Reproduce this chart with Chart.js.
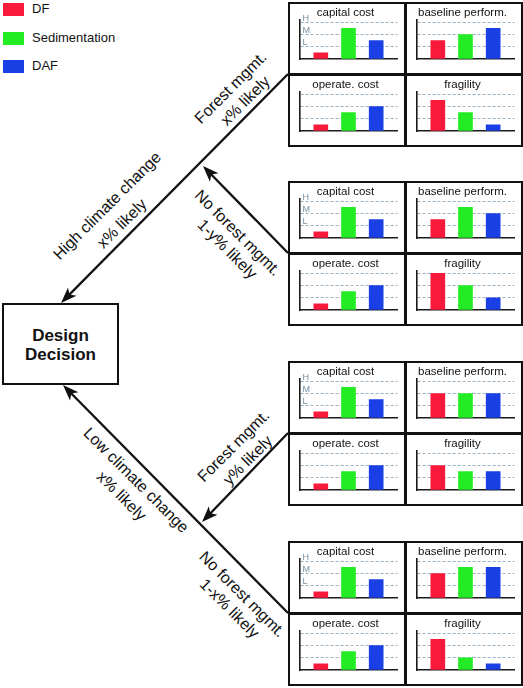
<!DOCTYPE html>
<html><head><meta charset="utf-8">
<script src="https://cdn.jsdelivr.net/npm/chart.js@4.4.0/dist/chart.umd.min.js"></script>
<style>
html,body{margin:0;padding:0;background:#fff;}
body{width:523px;height:688px;position:relative;overflow:hidden;font-family:'Liberation Sans',Arial,sans-serif;color:#111;}
svg#diagram{position:absolute;left:0;top:0;}
.group{position:absolute;left:288px;width:235px;height:145px;box-sizing:border-box;background:#111;padding:2px;display:grid;grid-template-columns:114px 114px;grid-template-rows:69px 69px;gap:3px;}
.panel{background:#fff;position:relative;width:114px;height:69px;}
.panel canvas{position:absolute;left:0;top:0;}
.leg{position:absolute;left:3px;height:14px;font-size:13px;line-height:14px;}
.leg span.sw{position:absolute;left:0;top:0;width:21px;height:13px;}
.leg span.tx{position:absolute;left:29px;top:-1px;white-space:nowrap;}
#decision{position:absolute;left:2px;top:303px;width:117px;height:82px;box-sizing:border-box;border:2.5px solid #111;display:flex;align-items:center;justify-content:center;text-align:center;font-weight:bold;font-size:17px;line-height:19px;padding-top:2px;}
</style></head>
<body>
<svg id="diagram" width="523" height="688" xmlns="http://www.w3.org/2000/svg"></svg>
<div id="legend"></div>
<div id="decision">Design<br>Decision</div>
<div id="groups"></div>
<script>
const FONT = "'Liberation Sans', Arial, sans-serif";

// ---- data ----
const categories = ['DF', 'Sedimentation', 'DAF'];
const barColors = ['#f8193b', '#24ec24', '#1a3fe4'];
const panelTitles = ['capital cost', 'baseline perform.', 'operate. cost', 'fragility'];
const levelLabels = ['', 'L', 'M', 'H'];   // tick labels for values 0..3

// values per panel (capital cost, baseline perform., operate. cost, fragility) -> [DF, Sedimentation, DAF]
const highClimateForest   = [[0.5, 2.5, 1.5], [1.5, 2, 2.5], [0.5, 1.5, 2], [2.5, 1.5, 0.5]];
const highClimateNoForest = [[0.5, 2.5, 1.5], [1.5, 2.5, 2], [0.5, 1.5, 2], [3, 2, 1]];
const lowClimateForest    = [[0.5, 2.5, 1.5], [2, 2, 2], [0.5, 1.5, 2], [2, 1.5, 1.5]];
const lowClimateNoForest  = [[0.5, 2.5, 1.5], [2, 2.5, 2.5], [0.5, 1.5, 2], [2.5, 1, 0.5]];

const scenarios = [highClimateForest, highClimateNoForest, lowClimateForest, lowClimateNoForest];
const groupTops = [2, 181, 361, 541];

// ---- legend ----
const legendTops = [3, 32, 60];
const legend = document.getElementById('legend');
categories.forEach((c, i) => {
  const d = document.createElement('div');
  d.className = 'leg';
  d.style.top = legendTops[i] + 'px';
  d.innerHTML = '<span class="sw" style="background:' + barColors[i] + '"></span><span class="tx">' + c + '</span>';
  legend.appendChild(d);
});

// ---- small bar charts ----
function makeChart(canvas, title, values, showLevels) {
  return new Chart(canvas, {
    type: 'bar',
    data: {
      labels: categories,
      datasets: [{
        label: title,
        data: values.map((v, i) => ({ x: i, y: v })),
        backgroundColor: barColors,
        borderWidth: 0,
        barThickness: 14
      }]
    },
    options: {
      responsive: false, animation: false, devicePixelRatio: 1,
      layout: { padding: { left: 3.5, right: 6.5, top: 0, bottom: 6 } },
      plugins: {
        legend: { display: false }, tooltip: { enabled: false },
        title: { display: true, text: title, color: '#111',
          font: { family: FONT, size: 11.5, weight: 'normal' }, padding: { top: 2, bottom: 0 } }
      },
      scales: {
        x: { type: 'linear', min: -0.77, max: 2.77, offset: false,
          grid: { display: false, offset: false }, ticks: { display: false },
          border: { display: true, color: '#1a1a1a', width: 1.6 } },
        y: { min: 0, max: 3.2,
          afterBuildTicks: ax => { ax.ticks = [0, 1, 2, 3].map(v => ({ value: v })); },
          grid: { color: c => (c.tick && c.tick.value > 0) ? '#9bb2c2' : 'rgba(0,0,0,0)', lineWidth: 1, drawTicks: false },
          border: { display: true, color: '#1a1a1a', width: 1.6, dash: [3, 2] },
          ticks: { mirror: true, autoSkip: false, padding: 3, labelOffset: -4, color: '#7390a2',
            font: { family: FONT, size: 9 },
            callback: v => showLevels ? (levelLabels[v] || '') : '' } }
      }
    }
  });
}

const groupsEl = document.getElementById('groups');
scenarios.forEach((sc, g) => {
  const grp = document.createElement('div');
  grp.className = 'group';
  grp.style.top = groupTops[g] + 'px';
  groupsEl.appendChild(grp);
  sc.forEach((vals, p) => {
    const pan = document.createElement('div');
    pan.className = 'panel';
    const cv = document.createElement('canvas');
    cv.width = 114; cv.height = 69;
    pan.appendChild(cv);
    grp.appendChild(pan);
    makeChart(cv, panelTitles[p], vals, p === 0);
  });
});

// ---- decision tree arrows and labels ----
const NS = 'http://www.w3.org/2000/svg';
const svg = document.getElementById('diagram');
function arrow(x1, y1, x2, y2) {
  const dx = x2 - x1, dy = y2 - y1, len = Math.hypot(dx, dy);
  const ux = dx / len, uy = dy / len, nx = -uy, ny = ux;
  const L = 16, W = 6, notch = 4;
  const line = document.createElementNS(NS, 'line');
  line.setAttribute('x1', x1); line.setAttribute('y1', y1);
  line.setAttribute('x2', x2 - ux * 8); line.setAttribute('y2', y2 - uy * 8);
  line.setAttribute('stroke', '#111'); line.setAttribute('stroke-width', '2.3');
  svg.appendChild(line);
  const pts = [
    [x2, y2],
    [x2 - ux * L + nx * W, y2 - uy * L + ny * W],
    [x2 - ux * (L - notch), y2 - uy * (L - notch)],
    [x2 - ux * L - nx * W, y2 - uy * L - ny * W]
  ];
  const poly = document.createElementNS(NS, 'polygon');
  poly.setAttribute('points', pts.map(p => p.join(',')).join(' '));
  poly.setAttribute('fill', '#111');
  svg.appendChild(poly);
}
function label(text, cx, cy, angle) {
  const t = document.createElementNS(NS, 'text');
  t.setAttribute('transform', 'translate(' + cx + ',' + cy + ') rotate(' + angle + ')');
  t.setAttribute('text-anchor', 'middle');
  t.setAttribute('dominant-baseline', 'central');
  t.setAttribute('font-family', FONT);
  t.setAttribute('font-size', '16');
  t.setAttribute('fill', '#111');
  t.textContent = text;
  svg.appendChild(t);
}
arrow(288, 74, 61, 303);
arrow(288, 253, 203, 166);
arrow(288, 433, 202, 522);
arrow(288, 613, 63, 385);

label('Forest mgmt.', 230.5, 87.5, -45);
label('x% likely', 245, 100.5, -45);
label('High climate change', 107, 205.5, -45);
label('x% likely', 121.7, 223.3, -45);
label('No forest mgmt.', 238, 232.7, 45);
label('1-y% likely', 227.5, 249, 45);
label('Forest mgmt.', 233.3, 445.8, -45);
label('y% likely', 247.5, 460, -45);
label('Low climate change', 136.3, 480, 45);
label('x% likely', 121.7, 495.8, 45);
label('No forest mgmt.', 242.5, 594, 45);
label('1-x% likely', 229.7, 608.3, 45);
</script>
</body></html>
